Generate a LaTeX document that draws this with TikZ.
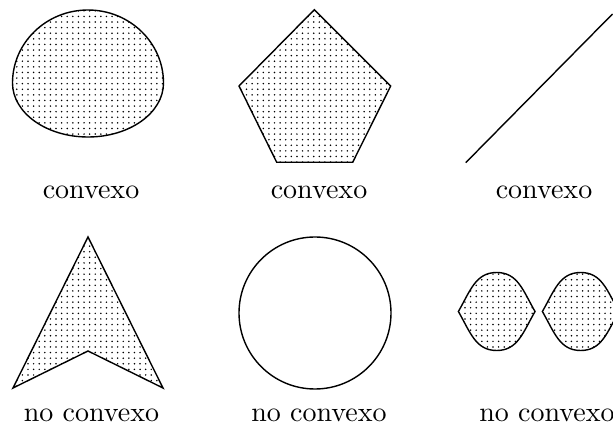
\documentclass[tikz,border=0pt]{standalone}
\usetikzlibrary{patterns.meta}

\tikzset{
    region/.style={draw, pattern={Dots[distance=2pt, radius=0.3pt]}},
    label text/.style={inner sep=0pt, anchor=base},
}

\begin{document}
\begin{tikzpicture}[x=0.357pt, y=0.357pt, line width=0.5pt]
    \useasboundingbox (0,0) rectangle (613,431);
    \clip (0,0) rectangle (613,431);

    % first row: convex sets
    \draw[region] (12.5,348) arc[start angle=180, end angle=0, x radius=75.5, y radius=73]
        arc[start angle=0, end angle=-180, x radius=75.5, y radius=54] -- cycle;
    \draw[region] (314.3,421.3) -- (390.7,345) -- (352.7,268.7) -- (276.7,268.7) -- (239,345) -- cycle;
    \coordinate (s0) at (465.7,268.3);
    \coordinate (s1) at (612.5,417);
    \draw (s0) -- (s1);

    \node[label text] (conv1) at (91,232.7) {convexo};
    \node[label text] (conv2) at (319,232.7) {convexo};
    \node[label text] (conv3) at (544,232.7) {convexo};

    % second row: non convex sets
    \draw[region] (88,194) -- (163,43) -- (88,80) -- (13,43) -- cycle;
    \draw (315,118) circle[radius=76];
    \foreach \cx in {496.7, 580.7} {
        \draw[region] (\cx-38.3,119.5) .. controls +(12,21) and +(-21,0) .. (\cx,158.5)
            .. controls +(21,0) and +(-12,21) .. (\cx+38.3,119.5)
            .. controls +(-12,-21) and +(21,0) .. (\cx,80.5)
            .. controls +(-21,0) and +(12,-21) .. (\cx-38.3,119.5) -- cycle;
    }

    \node[label text] (nconv1) at (91.5,9.3) {no convexo};
    \node[label text] (nconv2) at (319,9.3) {no convexo};
    \node[label text] (nconv3) at (547,9.3) {no convexo};
\end{tikzpicture}
\end{document}
